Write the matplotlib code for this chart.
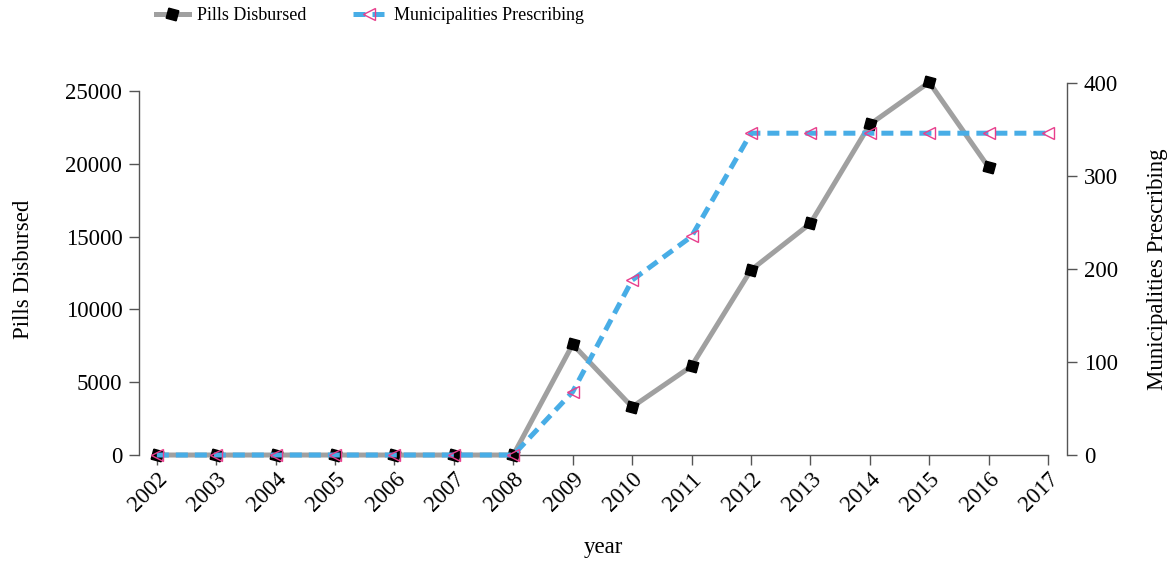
import matplotlib
matplotlib.use("Agg")
import matplotlib.pyplot as plt

plt.rcParams['font.family'] = ['Liberation Serif', 'DejaVu Serif']
plt.rcParams['font.size'] = 16

years = list(range(2002, 2018))
pills = [0, 0, 0, 0, 0, 0, 0, 7600, 3300, 6100, 12700, 15900, 22700, 25600, 19760]
pill_years = years[:len(pills)]
munis = [0, 0, 0, 0, 0, 0, 0, 68, 188, 235, 346, 346, 346, 346, 346, 346]

left_ticks = [0, 5000, 10000, 15000, 20000, 25000]
right_ticks = [0, 100, 200, 300, 400]

spine_col = '#555555'

fig = plt.figure(figsize=(11.75, 5.63), dpi=100)
ax = fig.add_axes([0.1183, 0.1918, 0.7898, 0.6608])
ax2 = ax.twinx()

# pills on left axis
l1, = ax.plot(pill_years, pills, color='#a0a0a0', lw=3.6,
              marker=(4, 0, 30), ms=10.5, mfc='black', mec='black',
              label='Pills Disbursed', clip_on=False, zorder=3)
# municipalities on right axis
l2, = ax2.plot(years, munis, color='#48ade6', lw=3.6, ls=(0, (2.4, 1.4)),
               marker='<', ms=9, mfc='none', mec='#e83e8c', mew=1.0,
               label='Municipalities Prescribing', clip_on=False, zorder=3)

ax.set_xlim(2001.7, 2017.32)
ax.set_ylim(0, 25550)
ax2.set_ylim(0, 400)

ax.set_xticks(years)
ax.set_xticklabels([str(y) for y in years], rotation=45, ha='right',
                   rotation_mode='anchor')
ax.set_yticks(left_ticks)
ax.set_yticklabels([str(v) for v in left_ticks])
ax2.set_yticks(right_ticks)
ax2.set_yticklabels([str(v) for v in right_ticks])

for a in (ax, ax2):
    a.spines['top'].set_visible(False)
    for s in a.spines.values():
        s.set_color(spine_col)
        s.set_linewidth(1.0)
    a.tick_params(direction='out', length=7, width=1.0, color=spine_col,
                  labelcolor='black', labelsize=16.5)

ax.spines['right'].set_visible(False)
ax2.spines['left'].set_visible(False)
ax2.spines['bottom'].set_visible(False)
ax.spines['left'].set_bounds(0, 25000)
ax.spines['bottom'].set_bounds(2002, 2017)
ax2.spines['right'].set_bounds(0, 400)

ax.tick_params(axis='x', pad=3)
ax.tick_params(axis='y', pad=5)
ax2.tick_params(axis='y', pad=5)
ax.set_xlabel('year', fontsize=16.5, labelpad=15)
ax.set_ylabel('Pills Disbursed', fontsize=16.5, labelpad=23)
ax2.set_ylabel('Municipalities Prescribing', fontsize=16.5, labelpad=21)

fig.legend(handles=[l1, l2], loc='upper left', bbox_to_anchor=(0.119, 1.016),
           ncol=2, frameon=False, fontsize=13, handlelength=1.8,
           columnspacing=2.6, handletextpad=0.45)

fig.savefig('out.png', dpi=100)
